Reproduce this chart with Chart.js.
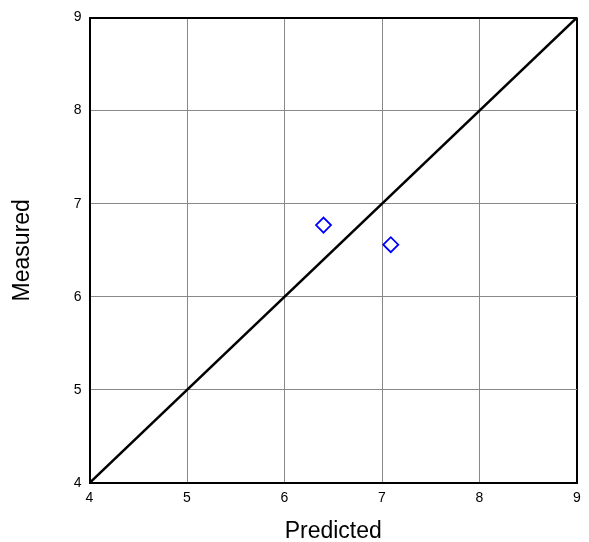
<!DOCTYPE html>
<html>
<head>
<meta charset="utf-8">
<script src="https://cdn.jsdelivr.net/npm/chart.js@4"></script>
<style>
  html, body { margin: 0; padding: 0; background: #fff; }
  #wrap { width: 589px; height: 542px; }
</style>
</head>
<body>
<div id="wrap"><canvas id="chart" width="589" height="542"></canvas></div>
<script>
const predicted = [6.40, 7.09];
const measured = [6.77, 6.56];
const identityLine = [4, 9];
const tickValues = [4, 5, 6, 7, 8, 9];

const ctx = document.getElementById('chart');

const edge = (ctx2, lo, hi) => {
  const v = ctx2.tick && ctx2.tick.value;
  return v === lo || v === hi;
};

new Chart(ctx, {
  type: 'scatter',
  data: {
    datasets: [
      {
        type: 'line',
        data: identityLine.map(v => ({ x: v, y: v })),
        borderColor: '#000',
        borderWidth: 2.5,
        pointRadius: 0,
        fill: false
      },
      {
        data: predicted.map((p, i) => ({ x: p, y: measured[i] })),
        pointStyle: 'rectRot',
        pointRadius: 7.5,
        pointHoverRadius: 7.5,
        pointBorderWidth: 1.8,
        borderColor: '#0000ff',
        backgroundColor: 'rgba(0,0,0,0)'
      }
    ]
  },
  options: {
    responsive: false,
    animation: false,
    events: [],
    layout: { padding: { left: 0, top: 17.5, right: 12, bottom: 0 } },
    plugins: {
      legend: { display: false },
      tooltip: { enabled: false }
    },
    scales: {
      x: {
        type: 'linear',
        min: 4,
        max: 9,
        afterFit: s => { s.height = 59; },
        afterBuildTicks: s => { s.ticks = tickValues.map(v => ({ value: v })); },
        grid: {
          drawTicks: false,
          color: c => edge(c, 4, 9) ? '#000' : '#888',
          lineWidth: c => edge(c, 4, 9) ? 2 : 1
        },
        border: { color: '#000', width: 2 },
        ticks: {
          padding: 7,
          color: '#000',
          font: { family: 'Liberation Sans', size: 14 }
        },
        title: {
          display: true,
          text: 'Predicted',
          color: '#000',
          font: { family: 'Liberation Sans', size: 23, lineHeight: 0.9 },
          padding: { top: 0, bottom: 0 }
        }
      },
      y: {
        type: 'linear',
        min: 4,
        max: 9,
        afterFit: s => { s.width = 89.5; },
        afterBuildTicks: s => { s.ticks = tickValues.map(v => ({ value: v })); },
        grid: {
          drawTicks: false,
          color: c => edge(c, 4, 9) ? '#000' : '#888',
          lineWidth: c => edge(c, 4, 9) ? 2 : 1
        },
        border: { color: '#000', width: 2 },
        ticks: {
          padding: 8,
          color: '#000',
          font: { family: 'Liberation Sans', size: 14 }
        },
        title: {
          display: true,
          text: 'Measured',
          color: '#000',
          font: { family: 'Liberation Sans', size: 23, lineHeight: 1 },
          padding: { top: 11.5, bottom: 0 }
        }
      }
    }
  }
});
</script>
</body>
</html>
